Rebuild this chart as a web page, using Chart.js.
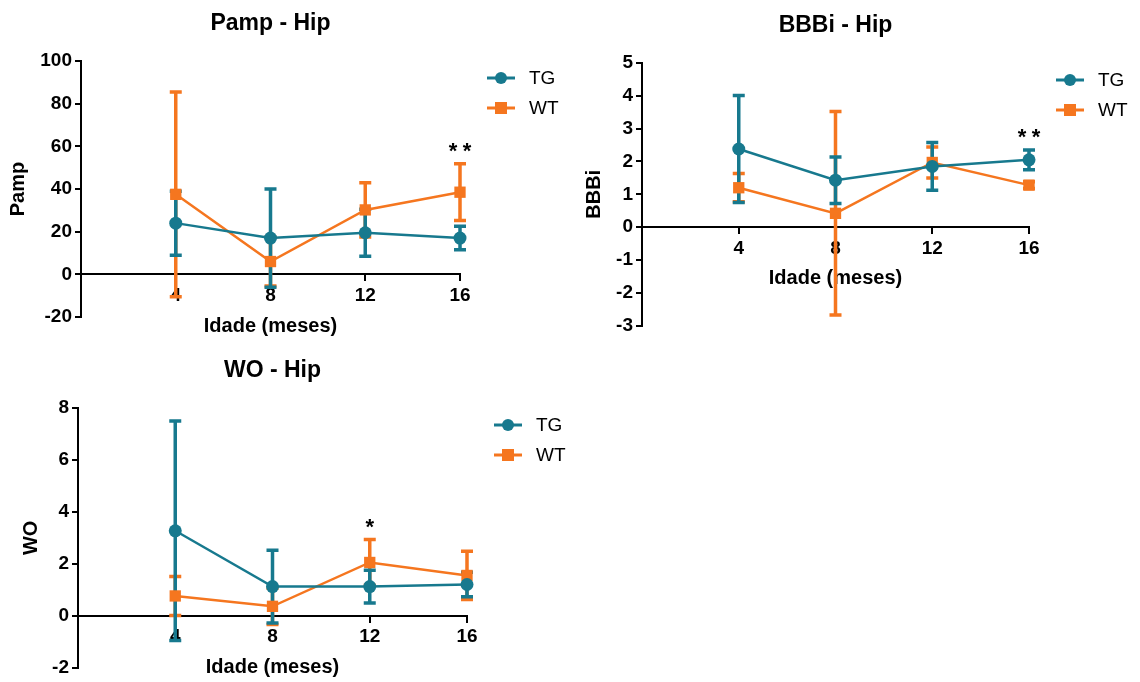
<!DOCTYPE html>
<html>
<head>
<meta charset="utf-8">
<script src="https://cdn.jsdelivr.net/npm/chart.js@4.4.1/dist/chart.umd.min.js"></script>
<style>
    html, body { margin: 0; padding: 0; background: #fff; }
    #wrap { position: relative; width: 1140px; height: 682px; overflow: hidden; }
    .box { position: absolute; }
</style>
</head>
<body>
<div id="wrap">
    <div class="box" style="left:0;top:0;width:570px;height:340px"><canvas id="c-pamp"></canvas></div>
    <div class="box" style="left:576px;top:0;width:564px;height:340px"><canvas id="c-bbbi"></canvas></div>
    <div class="box" style="left:0;top:340px;width:570px;height:342px"><canvas id="c-wo"></canvas></div>
</div>
<script>
const months = [4, 8, 12, 16];

const pampTG = [24, 17, 19.5, 17];
const pampTGErr = [15, 23, 11, 5.5];
const pampWT = [37.5, 6, 30.2, 38.5];
const pampWTErr = [48, 11.5, 12.7, 13.3];
const pampSig = ['', '', '', '**'];

const bbbiTG = [2.38, 1.43, 1.85, 2.05];
const bbbiTGErr = [1.63, 0.71, 0.73, 0.3];
const bbbiWT = [1.2, 0.42, 1.97, 1.28];
const bbbiWTErr = [0.43, 3.1, 0.47, 0.1];
const bbbiSig = ['', '', '', '**'];

const woTG = [3.27, 1.12, 1.12, 1.2];
const woTGErr = [4.23, 1.4, 0.63, 0.47];
const woWT = [0.76, 0.36, 2.05, 1.55];
const woWTErr = [0.75, 0.7, 0.88, 0.93];
const woSig = ['', '', '*', ''];

const TEAL = '#17798e';
const ORANGE = '#f5761f';
const FAMILY = "'Liberation Sans', Arial, sans-serif";

// error bars under the lines, WT first so TG sits on top
const errorBars = {
    id: 'errorBars',
    beforeDatasetsDraw(chart) {
        const { ctx, scales: { y } } = chart;
        for (let d = chart.data.datasets.length - 1; d >= 0; d--) {
            const ds = chart.data.datasets[d];
            const meta = chart.getDatasetMeta(d);
            ctx.save();
            ctx.strokeStyle = ds.borderColor;
            ctx.lineWidth = 3.5;
            meta.data.forEach((pt, i) => {
                const top = y.getPixelForValue(ds.data[i].y + ds.errors[i]);
                const bot = y.getPixelForValue(ds.data[i].y - ds.errors[i]);
                ctx.beginPath();
                ctx.moveTo(pt.x, top); ctx.lineTo(pt.x, bot);
                ctx.moveTo(pt.x - 6, top); ctx.lineTo(pt.x + 6, top);
                ctx.moveTo(pt.x - 6, bot); ctx.lineTo(pt.x + 6, bot);
                ctx.stroke();
            });
            ctx.restore();
        }
    }
};

// title, line+marker legend and significance stars
const decor = {
    id: 'decor',
    afterDraw(chart, _args, opts) {
        const { ctx, chartArea: a, scales: { x, y } } = chart;
        ctx.save();
        ctx.fillStyle = '#000';
        ctx.textAlign = 'center';
        ctx.textBaseline = 'middle';
        ctx.font = `bold 23px ${FAMILY}`;
        ctx.fillText(opts.title, (a.left + a.right) / 2, a.top - 37);

        chart.data.datasets.forEach((ds, i) => {
            const mx = a.right + 41, my = a.top + 17 + i * 30;
            ctx.strokeStyle = ds.borderColor;
            ctx.lineWidth = 3;
            ctx.beginPath(); ctx.moveTo(mx - 14, my); ctx.lineTo(mx + 14, my); ctx.stroke();
            ctx.fillStyle = ds.borderColor;
            ctx.beginPath();
            if (ds.pointStyle === 'rect') ctx.rect(mx - 6, my - 6, 12, 12);
            else ctx.arc(mx, my, 6, 0, Math.PI * 2);
            ctx.fill();
            ctx.fillStyle = '#000';
            ctx.textAlign = 'left';
            ctx.font = `19px ${FAMILY}`;
            ctx.fillText(ds.label, mx + 28, my + 1);
        });

        ctx.font = `bold 22px ${FAMILY}`;
        ctx.textAlign = 'center';
        ctx.textBaseline = 'alphabetic';
        opts.sig.forEach((s, i) => {
            if (!s) return;
            const top = Math.min(...chart.data.datasets.map(ds => y.getPixelForValue(ds.data[i].y + ds.errors[i])));
            const cx = x.getPixelForValue(months[i]);
            [...s].forEach((ch, k) => ctx.fillText(ch, cx + (k - (s.length - 1) / 2) * 14, top - 6));
        });
        ctx.restore();
    }
};

function series(label, vals, errs, color, style, radius) {
    return {
        label,
        data: months.map((m, i) => ({ x: m, y: vals[i] })),
        errors: errs,
        borderColor: color,
        backgroundColor: color,
        borderWidth: 2.5,
        pointStyle: style,
        pointRadius: radius,
        pointHoverRadius: radius,
        pointBorderWidth: 0,
        tension: 0,
        clip: false
    };
}

function makeChart(id, c) {
    const tickFont = { family: FAMILY, size: 19, weight: 'bold' };
    const axisGrid = { drawOnChartArea: false, drawTicks: true, tickLength: 6, color: '#000', lineWidth: 2 };
    return new Chart(document.getElementById(id), {
        type: 'line',
        data: {
            datasets: [
                series('TG', c.tg, c.tgErr, TEAL, 'circle', 6.5),
                series('WT', c.wt, c.wtErr, ORANGE, 'rect', 8)
            ]
        },
        options: {
            responsive: true,
            maintainAspectRatio: false,
            animation: false,
            events: [],
            layout: { padding: c.pad },
            plugins: {
                legend: { display: false },
                tooltip: { enabled: false },
                decor: { title: c.title, sig: c.sig }
            },
            scales: {
                x: {
                    type: 'linear',
                    position: { y: 0 },
                    min: 0, max: 16,
                    afterBuildTicks: (s) => { s.ticks = s.ticks.filter(t => t.value !== 0); },
                    ticks: { stepSize: 4, font: tickFont, color: '#000', padding: 4, maxRotation: 0 },
                    grid: axisGrid,
                    border: { display: true, color: '#000', width: 2 },
                    title: { display: true, text: 'Idade (meses)', color: '#000', font: { family: FAMILY, size: 20, weight: 'bold' }, padding: { top: 3, bottom: 0 } }
                },
                y: {
                    min: c.yMin, max: c.yMax,
                    afterFit: (s) => { s.width = c.yWidth; },
                    ticks: { stepSize: c.yStep, font: tickFont, color: '#000', padding: 3 },
                    grid: axisGrid,
                    border: { display: true, color: '#000', width: 2 },
                    title: { display: true, text: c.yTitle, color: '#000', font: { family: FAMILY, size: 20, weight: 'bold' } }
                }
            }
        },
        plugins: [errorBars, decor]
    });
}

makeChart('c-pamp', {
    title: 'Pamp - Hip', yTitle: 'Pamp', yMin: -20, yMax: 100, yStep: 20,
    tg: pampTG, tgErr: pampTGErr, wt: pampWT, wtErr: pampWTErr, sig: pampSig,
    pad: { left: 2, top: 61, right: 110, bottom: 23 }, yWidth: 79
});

makeChart('c-bbbi', {
    title: 'BBBi - Hip', yTitle: 'BBBi', yMin: -3, yMax: 5, yStep: 1,
    tg: bbbiTG, tgErr: bbbiTGErr, wt: bbbiWT, wtErr: bbbiWTErr, sig: bbbiSig,
    pad: { left: 2, top: 63, right: 111, bottom: 14 }, yWidth: 64
});

makeChart('c-wo', {
    title: 'WO - Hip', yTitle: 'WO', yMin: -2, yMax: 8, yStep: 2,
    tg: woTG, tgErr: woTGErr, wt: woWT, wtErr: woWTErr, sig: woSig,
    pad: { left: 15, top: 68, right: 103, bottom: 12 }, yWidth: 63
});
</script>
</body>
</html>
